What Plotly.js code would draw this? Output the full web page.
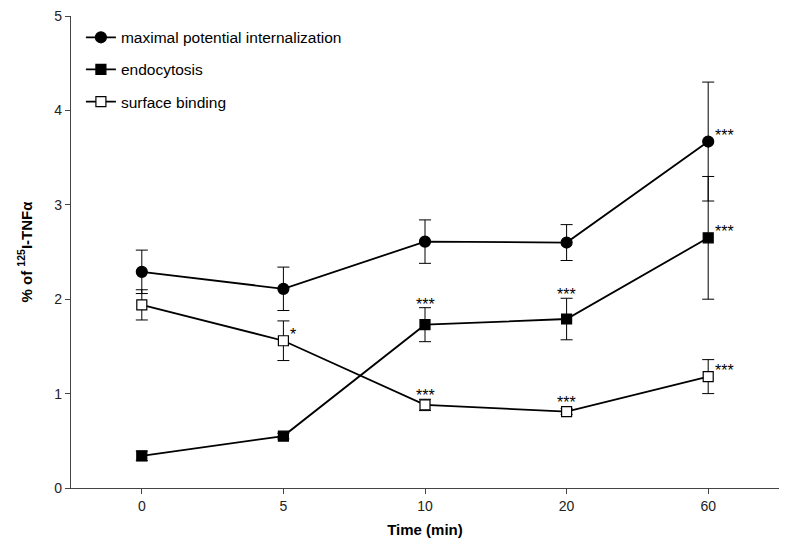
<!DOCTYPE html>
<html>
<head>
<meta charset="utf-8">
<script src="https://cdn.plot.ly/plotly-3.0.1.min.js"></script>
<style>html,body{margin:0;padding:0;background:#fff;}#chart{width:800px;height:546px;}</style>
</head>
<body>
<div id="chart"></div>
<script>
// Data
const timeLabels = ['0', '5', '10', '20', '60'];
const maximalMean = [2.29, 2.11, 2.61, 2.60, 3.67];
const maximalErr  = [0.23, 0.23, 0.23, 0.19, 0.63];
const endoMean    = [0.34, 0.55, 1.73, 1.79, 2.65];
const endoErr     = [0.05, 0.03, 0.18, 0.22, 0.65];
const surfMean    = [1.94, 1.56, 0.88, 0.81, 1.18];
const surfErr     = [0.16, 0.21, 0.06, 0.03, 0.18];
// significance markers: [series, index, text]
const sigMarks = [
  ['surf', 1, '*'],
  ['endo', 2, '***'], ['surf', 2, '***'],
  ['endo', 3, '***'], ['surf', 3, '***'],
  ['max', 4, '***'], ['endo', 4, '***'], ['surf', 4, '***']
];

const font = 'Liberation Sans, Arial, sans-serif';
function tr(name, y, err, symbol, fill, grp) {
  return {
    x: timeLabels, y: y, name: name, type: 'scatter', mode: 'lines+markers',
    legendgroup: grp,
    line: {color: '#000', width: 1.8},
    marker: {symbol: symbol, size: symbol === 'circle' ? 11 : 10, color: fill, line: {color: '#000', width: 1.2}},
    error_y: {type: 'data', array: err, visible: true, color: '#000', thickness: 1, width: 6},
    cliponaxis: false
  };
}
const data = [
  tr('maximal potential internalization', maximalMean, maximalErr, 'circle', '#000', 'a'),
  tr('endocytosis', endoMean, endoErr, 'square', '#000', 'b'),
  tr('surface binding', surfMean, surfErr, 'square', '#fff', 'c')
];

const seriesMap = {max: [maximalMean, maximalErr], endo: [endoMean, endoErr], surf: [surfMean, surfErr]};
const annotations = sigMarks.map(([s, i, t]) => {
  const [m, e] = seriesMap[s];
  let a = {x: i, xref: 'x', yref: 'y', text: t, showarrow: false,
           font: {family: font, size: 16, color: '#000'}};
  if (i === 4 || t === '*') {
    a.y = m[i]; a.xanchor = 'left'; a.yanchor = 'bottom'; a.xshift = 5; a.yshift = -4;
  } else if (s === 'endo') {
    a.y = m[i] + e[i]; a.yanchor = 'bottom'; a.yshift = -7;
  } else {
    a.y = m[i]; a.yanchor = 'bottom'; a.yshift = -1;
  }
  return a;
});

const layout = {
  width: 800, height: 546,
  margin: {l: 71, r: 21, t: 16, b: 58},
  paper_bgcolor: '#fff', plot_bgcolor: '#fff',
  font: {family: font, color: '#222'},
  showlegend: true,
  legend: {x: 0.014, y: 0.99, xanchor: 'left', yanchor: 'top', font: {family: font, size: 15.5, color: '#000'},
           tracegroupgap: 9, itemwidth: 30, bgcolor: 'rgba(0,0,0,0)'},
  xaxis: {type: 'category', range: [-0.5, 4.5], showgrid: false, zeroline: false,
          showline: true, linecolor: '#444', linewidth: 1.2, ticks: 'outside', ticklen: 5, tickcolor: '#444',
          tickfont: {family: font, size: 14, color: '#222'},
          title: {text: '<b>Time (min)</b>', font: {family: font, size: 15, color: '#000'}, standoff: 11}},
  yaxis: {range: [0, 5], dtick: 1, showgrid: false, zeroline: false,
          showline: true, linecolor: '#444', linewidth: 1.2, ticks: 'outside', ticklen: 5, tickcolor: '#444',
          tickfont: {family: font, size: 14, color: '#222'},
          title: {text: '<b>% of <sup>125</sup>I-TNFα</b>', font: {family: font, size: 15, color: '#000'}, standoff: 18}},
  annotations: annotations
};
Plotly.newPlot('chart', data, layout, {displayModeBar: false, staticPlot: true});
</script>
</body>
</html>
